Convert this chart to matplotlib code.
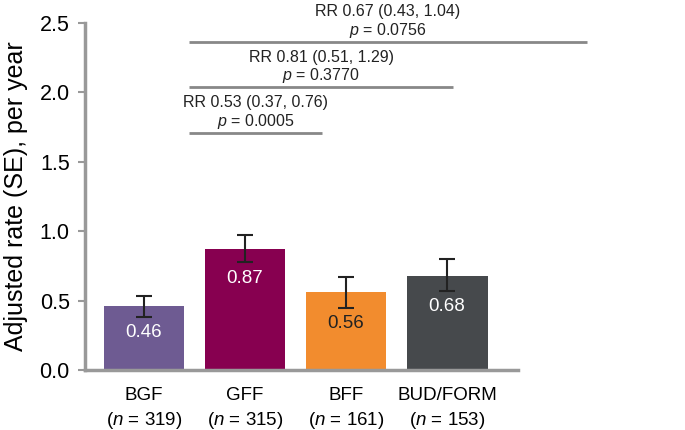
import numpy as np
import matplotlib.pyplot as plt

plt.rcParams['font.family'] = ['Liberation Sans', 'DejaVu Sans']
plt.rcParams['mathtext.fontset'] = 'custom'
plt.rcParams['mathtext.rm'] = 'Liberation Sans'
plt.rcParams['mathtext.it'] = 'Liberation Sans:italic'

groups = ['BGF', 'GFF', 'BFF', 'BUD/FORM']
n_vals = [319, 315, 161, 153]
rates = [0.46, 0.87, 0.56, 0.68]
err_low = [0.385, 0.775, 0.45, 0.57]
err_high = [0.53, 0.97, 0.67, 0.80]
colors = ['#6e5b92', '#870050', '#f28c2e', '#46494c']
label_colors = ['white', 'white', '#222222', 'white']

# comparison brackets: (x start, x end, y, RR text, p text)
brackets = [
    (0.45, 1.76, 1.71, 'RR 0.53 (0.37, 0.76)', '0.0005'),
    (0.45, 3.06, 2.04, 'RR 0.81 (0.51, 1.29)', '0.3770'),
    (0.45, 4.38, 2.365, 'RR 0.67 (0.43, 1.04)', '0.0756'),
]

fig = plt.figure(figsize=(6.85, 4.3), dpi=100)
ax = fig.add_axes([0.124, 0.1395, 0.632, 0.807])

x = np.arange(len(groups))
rates_a = np.array(rates)
yerr = [rates_a - np.array(err_low), np.array(err_high) - rates_a]
ax.bar(x, rates, width=0.8, color=colors)
ax.errorbar(x, rates, yerr=yerr, fmt='none', ecolor='#222222',
            elinewidth=1.5, capsize=6, capthick=1.5)

for i in range(len(groups)):
    ax.text(x[i], err_low[i] - 0.115, f'{rates[i]:.2f}', ha='center', va='center',
            color=label_colors[i], fontsize=13.5)

for x0, x1, y, rr, p in brackets:
    ax.plot([x0, x1], [y, y], color='#888888', lw=2, clip_on=False,
            solid_capstyle='butt')
    xm = (x0 + x1) / 2
    ax.text(xm, y + 0.215, rr, ha='center', va='center', fontsize=11.5,
            color='#222222', clip_on=False)
    ax.text(xm, y + 0.08, '$p$ = ' + p, ha='center', va='center', fontsize=11.5,
            color='#222222', clip_on=False)

ax.set_xlim(-0.584, 3.70)
ax.set_ylim(0, 2.5)
ax.set_yticks([0, 0.5, 1.0, 1.5, 2.0, 2.5])
ax.set_yticklabels(['0.0', '0.5', '1.0', '1.5', '2.0', '2.5'], fontsize=15.5)
ax.set_xticks(x)
ax.set_xticklabels([f'{g}\n($n$ = {n})' for g, n in zip(groups, n_vals)],
                   fontsize=13.5, linespacing=1.4)
ax.tick_params(axis='x', length=0, pad=12)
ax.tick_params(axis='y', length=5, width=1.5, color='#999999', pad=6)
ax.set_ylabel('Adjusted rate (SE), per year', fontsize=18, labelpad=8)

for s in ['top', 'right']:
    ax.spines[s].set_visible(False)
for s in ['left', 'bottom']:
    ax.spines[s].set_color('#999999')
    ax.spines[s].set_linewidth(2.5)

fig.savefig('out.png', dpi=100)
